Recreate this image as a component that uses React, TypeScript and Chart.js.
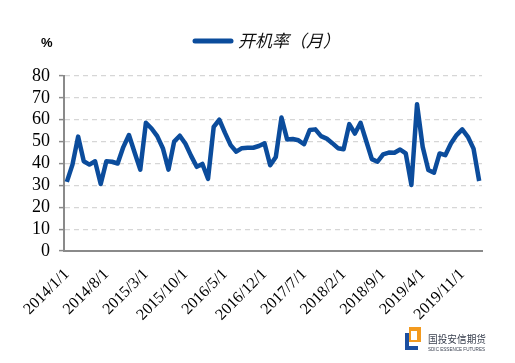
import React, { useEffect, useRef } from "react";
import { Chart, registerables } from "chart.js";

Chart.register(...registerables);

// ---- data ----
const startYear = 2014;
const startMonth = 1;
const monthCount = 74; // 2014/1 .. 2020/2
const categories: string[] = [];
for (let k = 0; k < monthCount; k++) {
  const m0 = startMonth - 1 + k;
  categories.push(`${startYear + Math.floor(m0 / 12)}/${(m0 % 12) + 1}/1`);
}

const openRate: number[] = [
  31.6, 39.5, 52.3, 41.0, 39.5, 41.0, 30.6, 41.0, 40.8, 40.0, 47.5, 53.0,
  45.0, 37.2, 58.6, 56.0, 52.5, 47.0, 37.2, 50.0, 52.7, 49.0, 43.5, 38.5,
  39.8, 33.0, 56.7, 60.0, 54.0, 48.4, 45.4, 47.0, 47.2, 47.2, 48.0, 49.2,
  39.2, 43.0, 61.0, 51.0, 51.2, 50.6, 48.8, 55.3, 55.6, 52.5, 51.4, 49.3,
  47.0, 46.5, 58.0, 53.7, 58.6, 50.3, 42.0, 40.8, 44.2, 45.0, 44.9, 46.4,
  44.6, 30.2, 67.1, 47.6, 37.0, 35.8, 44.6, 43.8, 49.1, 53.0, 55.6, 52.2,
  46.8, 32.0,
];

const seriesName = "开机率（月）";
const unitLabel = "%";
const yMin = 0;
const yMax = 80;
const yStep = 10;
const labelEvery = 7;
const brandCn = "国投安信期货";
const brandEn = "SDIC ESSENCE FUTURES";

const LINE_COLOR = "#0b4c9c";
const AXIS_COLOR = "#8a8a8a";
const SERIF = "'Liberation Serif', 'Times New Roman', serif";

const overlayPlugin = {
  id: "overlay",
  afterDraw(chart: any) {
    const ctx = chart.ctx as CanvasRenderingContext2D;
    ctx.save();
    // unit label
    ctx.fillStyle = "#000";
    ctx.font = "bold 13px 'Liberation Sans', Arial, sans-serif";
    ctx.textAlign = "left";
    ctx.textBaseline = "middle";
    ctx.fillText(unitLabel, 41, 43);

    // legend
    ctx.strokeStyle = LINE_COLOR;
    ctx.lineWidth = 5;
    ctx.lineCap = "round";
    ctx.beginPath();
    ctx.moveTo(195, 41);
    ctx.lineTo(231, 41);
    ctx.stroke();
    ctx.fillStyle = "#111";
    ctx.font = "italic 17px 'Noto Sans CJK SC', sans-serif";
    ctx.textBaseline = "middle";
    ctx.fillText(seriesName, 238, 41);

    // logo
    ctx.fillStyle = "#f39a1e";
    ctx.fillRect(409, 327, 12, 15);
    ctx.fillStyle = "#ffffff";
    ctx.fillRect(411, 331, 6, 9);
    ctx.fillStyle = "#1c4fa0";
    ctx.fillRect(405, 333, 4, 17);
    ctx.fillRect(405, 346, 13, 4);
    ctx.fillStyle = "#3a4150";
    ctx.font = "10.5px 'Noto Sans CJK SC', sans-serif";
    ctx.textBaseline = "middle";
    ctx.fillText(brandCn, 428, 339, 58);
    ctx.font = "6px 'Liberation Sans Narrow', 'Liberation Sans', sans-serif";
    ctx.fillText(brandEn, 428, 349, 57);
    ctx.restore();
  },
};

export default function App() {
  const ref = useRef<HTMLCanvasElement | null>(null);

  useEffect(() => {
    if (!ref.current) return;
    const chart = new Chart(ref.current, {
      type: "line",
      data: {
        labels: categories,
        datasets: [
          {
            label: seriesName,
            data: openRate,
            borderColor: LINE_COLOR,
            backgroundColor: LINE_COLOR,
            borderWidth: 4.5,
            pointRadius: 0,
            tension: 0,
            fill: false,
            borderJoinStyle: "round",
            borderCapStyle: "butt",
          },
        ],
      },
      options: {
        responsive: false,
        animation: false,
        layout: { padding: { top: 76, right: 33, left: 0, bottom: 0 } },
        plugins: {
          legend: { display: false },
          title: { display: false },
          tooltip: { enabled: false },
        },
        scales: {
          x: {
            type: "category",
            offset: true,
            grid: { display: false, drawTicks: false },
            border: { display: true, color: AXIS_COLOR, width: 2 },
            ticks: {
              autoSkip: false,
              maxRotation: 45,
              minRotation: 45,
              padding: 14,
              color: "#000",
              font: { family: SERIF, size: 16 },
              callback: (_v: any, i: number) =>
                i % labelEvery === 0 ? categories[i] : "",
            },
            afterFit: (s: any) => {
              s.height = 112;
            },
          },
          y: {
            min: yMin,
            max: yMax,
            border: { display: true, color: AXIS_COLOR, width: 2, dash: [5, 4] },
            grid: {
              color: "#d6d6d6",
              lineWidth: 1.2,
              drawTicks: true,
              tickLength: 5,
              tickColor: AXIS_COLOR,
              tickWidth: 1.5,
              tickBorderDash: [],
            },
            ticks: {
              stepSize: yStep,
              autoSkip: false,
              padding: 9,
              color: "#000",
              font: { family: SERIF, size: 18, lineHeight: 1 },
            },
            afterFit: (s: any) => {
              s.width = 64;
            },
          },
        },
      },
      plugins: [overlayPlugin],
    } as any);
    return () => chart.destroy();
  }, []);

  return (
    <div style={{ position: "absolute", left: 0, top: 0, width: 515, height: 363, background: "#fff" }}>
      <canvas ref={ref} width={515} height={363} style={{ display: "block", width: 515, height: 363 }} />
    </div>
  );
}
